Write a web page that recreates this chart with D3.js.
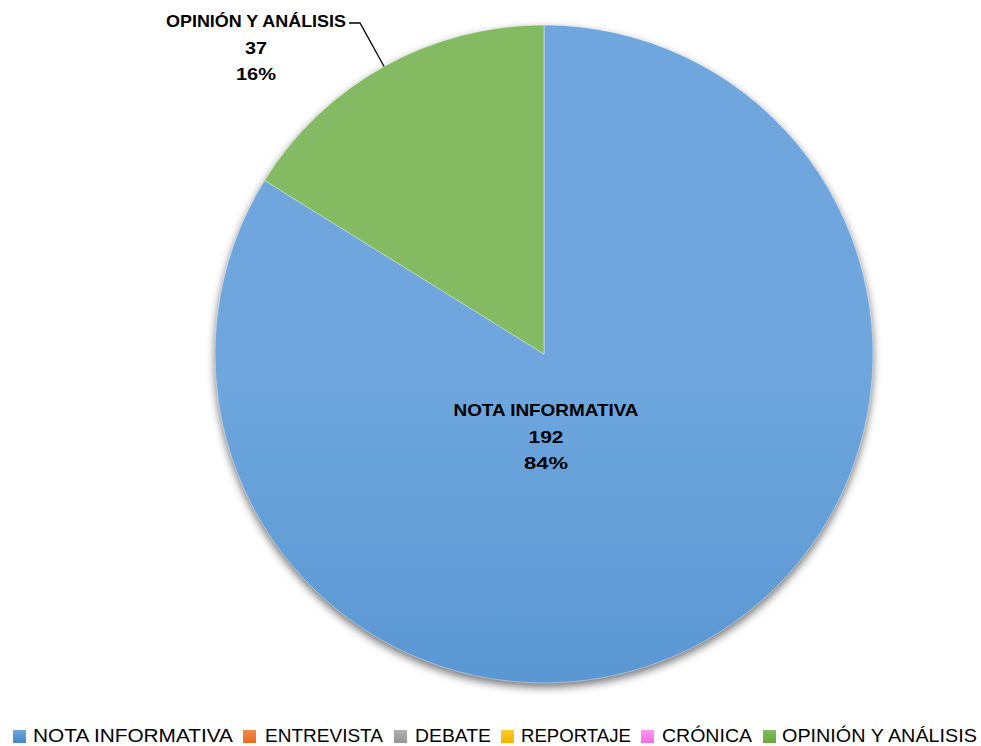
<!DOCTYPE html>
<html>
<head>
<meta charset="utf-8">
<script src="https://cdn.jsdelivr.net/npm/d3@7"></script>
<style>
  html, body { margin: 0; padding: 0; background: #fff; }
  svg { display: block; }
</style>
</head>
<body>
<svg id="chart" width="981" height="746"></svg>
<script>
// Tipos de texto periodístico y número de piezas
const categories = ["NOTA INFORMATIVA", "ENTREVISTA", "DEBATE", "REPORTAJE", "CRÓNICA", "OPINIÓN Y ANÁLISIS"];
const values = [192, 0, 0, 0, 0, 37];
const colorsTop = ["#6ea6dd", "#f28b4a", "#b0b0b0", "#ffcb2e", "#ff96f0", "#84bb62"];
const colorsBottom = ["#4386c7", "#e36c1f", "#959595", "#f0b400", "#ef6fe0", "#66a936"];

const W = 981, H = 746;
const cx = 544, cy = 354, r = 329;

const svg = d3.select("#chart");
const defs = svg.append("defs");

// Vertical gradients spanning the whole pie
categories.forEach((c, i) => {
  const g = defs.append("linearGradient")
    .attr("id", "grad" + i)
    .attr("gradientUnits", "userSpaceOnUse")
    .attr("x1", 0).attr("y1", cy - r)
    .attr("x2", 0).attr("y2", cy + r);
  g.append("stop").attr("offset", "0%").attr("stop-color", colorsTop[i]);
  g.append("stop").attr("offset", "100%").attr("stop-color", colorsBottom[i]);
  const lg = defs.append("linearGradient")
    .attr("id", "legGrad" + i)
    .attr("x1", 0).attr("y1", 0).attr("x2", 0).attr("y2", 1);
  lg.append("stop").attr("offset", "0%").attr("stop-color", colorsTop[i]);
  lg.append("stop").attr("offset", "100%").attr("stop-color", colorsBottom[i]);
});

const shadow = defs.append("filter").attr("id", "shadow")
  .attr("color-interpolation-filters", "sRGB")
  .attr("x", "-10%").attr("y", "-10%").attr("width", "120%").attr("height", "125%");
shadow.append("feDropShadow")
  .attr("dx", 0).attr("dy", 4).attr("stdDeviation", 4)
  .attr("flood-color", "#000").attr("flood-opacity", 0.55);

const total = d3.sum(values);
const pie = d3.pie().sort(null).value(d => d)(values);
const arc = d3.arc().innerRadius(0).outerRadius(r);

const g = svg.append("g").attr("transform", `translate(${cx},${cy})`);
g.append("g").attr("filter", "url(#shadow)")
  .selectAll("path")
  .data(pie.filter(d => d.value > 0))
  .enter().append("path")
  .attr("d", arc)
  .attr("fill", d => `url(#grad${d.index})`)
  .attr("stroke", "#ffffff")
  .attr("stroke-opacity", 0.5)
  .attr("stroke-width", 0.8);

const labelFont = "'Liberation Sans', Arial, sans-serif";
const pct = v => Math.round(v / total * 100) + "%";

function drawLabel(x, y, lines, widths) {
  const t = svg.append("g");
  lines.forEach((s, k) => {
    const tx = t.append("text")
      .attr("x", x).attr("y", y + k * 26.5)
      .attr("text-anchor", "middle")
      .attr("font-family", labelFont)
      .attr("font-weight", "bold")
      .attr("font-size", 17)
      .attr("fill", "#000")
      .text(s);
    if (widths && widths[k]) tx.attr("textLength", widths[k]).attr("lengthAdjust", "spacingAndGlyphs");
  });
}

// Label inside the main slice
drawLabel(546, 416, [categories[0], String(values[0]), pct(values[0])], [185, 35, 44]);

// Label outside the small slice, with a leader line to the slice edge
const gi = 5;
const mid = (pie[gi].startAngle + pie[gi].endAngle) / 2;
const edge = [cx + Math.sin(mid) * r, cy - Math.cos(mid) * r];
drawLabel(256, 27, [categories[gi], String(values[gi]), pct(values[gi])], [180, 22, 40]);
svg.append("polyline")
  .attr("points", [[349, 23], [360, 23], edge].map(p => p.join(",")).join(" "))
  .attr("fill", "none")
  .attr("stroke", "#000")
  .attr("stroke-width", 1.3);

// Legend
const legendSq = [13, 243, 394, 501, 641, 763];
const legendTx = [33, 265, 415, 521, 662, 782];
const legendW = [200, 118, 76, 110, 90, 195];
const leg = svg.append("g");
categories.forEach((c, i) => {
  leg.append("rect")
    .attr("x", legendSq[i]).attr("y", 730)
    .attr("width", 13).attr("height", 13)
    .attr("fill", `url(#legGrad${i})`);
  leg.append("text")
    .attr("x", legendTx[i]).attr("y", 742)
    .attr("font-family", labelFont)
    .attr("font-size", 19)
    .attr("fill", "#000")
    .attr("textLength", legendW[i])
    .attr("lengthAdjust", "spacingAndGlyphs")
    .text(c);
});
</script>
</body>
</html>
